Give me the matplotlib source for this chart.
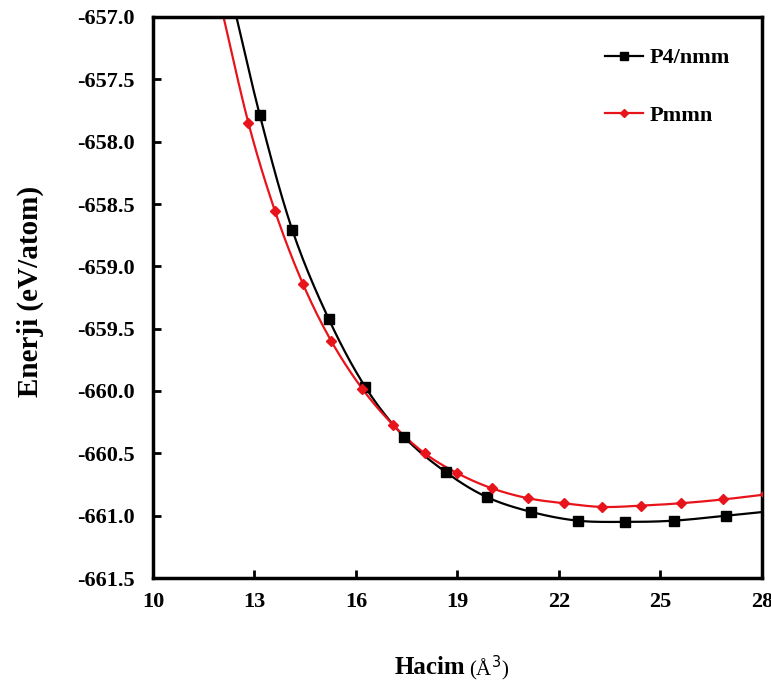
import numpy as np
import matplotlib
matplotlib.use("Agg")
import matplotlib.pyplot as plt

# ---- data ----
vol_p4nmm = [12.25, 13.16, 14.12, 15.19, 16.28, 17.43, 18.65, 19.86, 21.18, 22.55, 23.96, 25.40, 26.95, 28.40]
e_p4nmm = [-656.75, -657.79, -658.71, -659.42, -659.97, -660.37, -660.65, -660.85, -660.97, -661.04, -661.05, -661.04, -661.00, -660.96]

vol_pmmn = [12.00, 12.82, 13.61, 14.43, 15.27, 16.18, 17.09, 18.03, 19.00, 20.01, 21.08, 22.14, 23.27, 24.41, 25.62, 26.85, 28.10]
e_pmmn = [-656.90, -657.85, -658.56, -659.14, -659.60, -659.98, -660.27, -660.50, -660.66, -660.78, -660.86, -660.90, -660.93, -660.92, -660.90, -660.87, -660.83]

series_names = ["P4/nmm", "Pmmn"]
x_ticks = [10, 13, 16, 19, 22, 25, 28]
y_ticks = [-657.0, -657.5, -658.0, -658.5, -659.0, -659.5, -660.0, -660.5, -661.0, -661.5]


def smooth(x, y, n=20):
    """Catmull-Rom smoothed line through the given points (like a spreadsheet smoothed line)."""
    x = np.asarray(x, float)
    y = np.asarray(y, float)
    px = np.concatenate([[2 * x[0] - x[1]], x, [2 * x[-1] - x[-2]]])
    py = np.concatenate([[2 * y[0] - y[1]], y, [2 * y[-1] - y[-2]]])
    xs, ys = [], []
    t = np.linspace(0, 1, n, endpoint=False)
    for i in range(1, len(px) - 2):
        p0x, p1x, p2x, p3x = px[i - 1:i + 3]
        p0y, p1y, p2y, p3y = py[i - 1:i + 3]
        t2, t3 = t * t, t * t * t
        xs.append(0.5 * ((2 * p1x) + (-p0x + p2x) * t + (2 * p0x - 5 * p1x + 4 * p2x - p3x) * t2 + (-p0x + 3 * p1x - 3 * p2x + p3x) * t3))
        ys.append(0.5 * ((2 * p1y) + (-p0y + p2y) * t + (2 * p0y - 5 * p1y + 4 * p2y - p3y) * t2 + (-p0y + 3 * p1y - 3 * p2y + p3y) * t3))
    xs.append([x[-1]])
    ys.append([y[-1]])
    return np.concatenate(xs), np.concatenate(ys)


serif = ["Liberation Serif", "DejaVu Serif"]
plt.rcParams["font.family"] = serif

fig = plt.figure(figsize=(7.71, 6.84), dpi=100)
ax = fig.add_axes([153 / 771, 1 - 578 / 684, (762 - 153) / 771, (578 - 17) / 684])

for xv, yv, color, marker, ms, name in [
    (vol_p4nmm, e_p4nmm, "black", "s", 7, series_names[0]),
    (vol_pmmn, e_pmmn, "#e8141b", "D", 5, series_names[1]),
]:
    sx, sy = smooth(xv, yv)
    ax.plot(sx, sy, color=color, lw=1.6, zorder=2)
    ax.plot(xv, yv, linestyle="none", marker=marker, ms=ms, color=color, zorder=3)
    ax.plot([], [], color=color, lw=1.6, marker=marker, ms=ms * 0.8, label=name)

ax.set_xlim(10, 28)
ax.set_ylim(-661.5, -657.0)
ax.set_xticks(x_ticks)
ax.set_yticks(y_ticks)
ax.set_xticklabels([str(v) for v in x_ticks])
ax.set_yticklabels([f"{v:.1f}" for v in y_ticks])
ax.tick_params(direction="in", length=6, width=2, labelsize=16, pad=10)
for lab in ax.get_xticklabels() + ax.get_yticklabels():
    lab.set_fontweight("bold")
ax.tick_params(axis="y", pad=13)
for sp in ax.spines.values():
    sp.set_linewidth(2.5)

leg = ax.legend(loc="upper left", bbox_to_anchor=(0.742, 0.945), frameon=False,
                prop={"family": serif, "weight": "bold", "size": 16},
                handlelength=1.7, handletextpad=0.3, labelspacing=1.65,
                borderpad=0, borderaxespad=0)

fig.text(30 / 771, 1 - 291 / 684, "Enerji (eV/atom)", rotation=90, ha="center", va="center",
         fontsize=21, fontweight="bold")
fig.text(465 / 771, 1 - 668 / 684, "Hacim", ha="right", va="center", fontsize=18, fontweight="bold")
fig.text(469 / 771, 1 - 668 / 684, "(Å$^{3}$)", ha="left", va="center", fontsize=15)

fig.savefig("out.png", dpi=100)
